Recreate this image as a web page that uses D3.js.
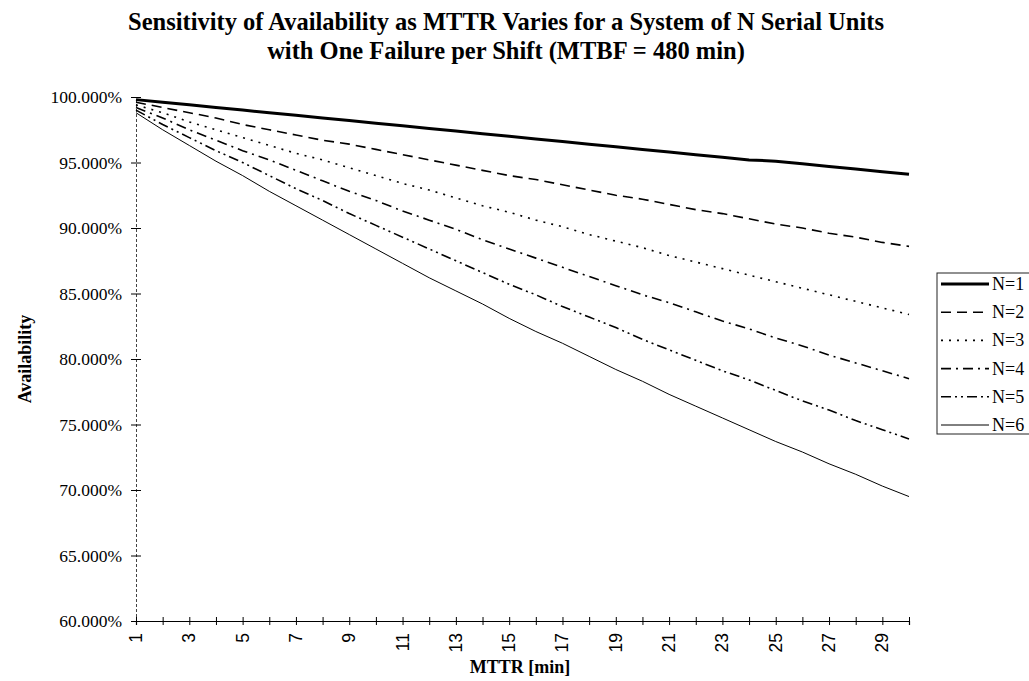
<!DOCTYPE html>
<html>
<head>
<meta charset="utf-8">
<script src="https://cdn.jsdelivr.net/npm/d3@7"></script>
<style>
  body { margin: 0; background: #fff; }
  svg { display: block; font-family: "Liberation Serif", "Times New Roman", serif; }
</style>
</head>
<body>
<div id="content"></div>
<script>
"use strict";

// MTTR in minutes (x categories)
var mttr = d3.range(1, 31);
var xTickLabels = [1, 3, 5, 7, 9, 11, 13, 15, 17, 19, 21, 23, 25, 27, 29];
var yTicks = [60, 65, 70, 75, 80, 85, 90, 95, 100];

// availability in %
var n1 = [99.8, 99.6, 99.4, 99.2, 99.0, 98.8, 98.6, 98.4, 98.2, 98.0, 97.8, 97.6, 97.4, 97.2, 97.0,
          96.8, 96.6, 96.4, 96.2, 96.0, 95.8, 95.6, 95.4, 95.2, 95.1, 94.9, 94.7, 94.5, 94.3, 94.1];
var n2 = [99.6, 99.2, 98.8, 98.4, 97.9, 97.5, 97.1, 96.7, 96.4, 96.0, 95.6, 95.2, 94.8, 94.4, 94.0,
          93.7, 93.3, 92.9, 92.5, 92.2, 91.8, 91.4, 91.1, 90.7, 90.3, 90.0, 89.6, 89.3, 88.9, 88.6];
var n3 = [99.4, 98.8, 98.1, 97.5, 96.9, 96.3, 95.7, 95.2, 94.6, 94.0, 93.4, 92.9, 92.3, 91.7, 91.2,
          90.6, 90.1, 89.5, 89.0, 88.5, 87.9, 87.4, 86.9, 86.4, 85.9, 85.4, 84.9, 84.4, 83.9, 83.4];
var n4 = [99.2, 98.4, 97.5, 96.7, 95.9, 95.2, 94.4, 93.6, 92.8, 92.1, 91.3, 90.6, 89.9, 89.1, 88.4,
          87.7, 87.0, 86.3, 85.6, 84.9, 84.3, 83.6, 82.9, 82.3, 81.6, 81.0, 80.3, 79.7, 79.1, 78.5];
var n5 = [99.0, 97.9, 96.9, 95.9, 95.0, 94.0, 93.0, 92.1, 91.1, 90.2, 89.3, 88.4, 87.5, 86.6, 85.7,
          84.9, 84.0, 83.2, 82.4, 81.5, 80.7, 79.9, 79.1, 78.4, 77.6, 76.8, 76.1, 75.3, 74.6, 73.9];
var n6 = [98.8, 97.5, 96.3, 95.1, 94.0, 92.8, 91.7, 90.6, 89.5, 88.4, 87.3, 86.2, 85.2, 84.2, 83.1,
          82.1, 81.2, 80.2, 79.2, 78.3, 77.3, 76.4, 75.5, 74.6, 73.7, 72.9, 72.0, 71.2, 70.3, 69.5];

var seriesNames = ["N=1", "N=2", "N=3", "N=4", "N=5", "N=6"];
var seriesValues = [n1, n2, n3, n4, n5, n6];

var styles = [
  { w: 3,   dash: null },
  { w: 1.6, dash: "10,6" },
  { w: 1.6, dash: "2,6" },
  { w: 1.6, dash: "10,5,2,5" },
  { w: 1.6, dash: "10,4,2,4,2,4" },
  { w: 1,   dash: null }
];

var width = 1029;
var height = 681;
var svg = d3.select('#content').append('svg')
  .attr('width', width)
  .attr('height', height);

var x = d3.scaleLinear().domain([1, 30]).range([136, 909]);
var y = d3.scaleLinear().domain([60, 100]).range([621, 97]);

// title
var title = svg.append('text')
  .attr('text-anchor', 'middle')
  .style('font-weight', 'bold')
  .style('font-size', '24.5px');
title.append('tspan').attr('x', 506).attr('y', 30)
  .text('Sensitivity of Availability as MTTR Varies for a System of N Serial Units');
title.append('tspan').attr('x', 506).attr('y', 59)
  .text('with One Failure per Shift (MTBF = 480 min)');

// y axis
var yAxis = svg.append('g')
  .attr('transform', 'translate(' + x(1) + ',0)')
  .call(d3.axisLeft(y).tickValues(yTicks)
    .tickSize(5)
    .tickFormat(function(d) { return d.toFixed(3) + '%'; }));
yAxis.select('.domain').attr('stroke', '#444').attr('stroke-dasharray', '3,2');
yAxis.selectAll('.tick line').attr('x2', 5).attr('x1', -5);
yAxis.selectAll('.tick text')
  .attr('x', -14)
  .style('font-family', '"Liberation Serif", serif')
  .style('font-size', '17.5px');

// x axis
var xAxis = svg.append('g')
  .attr('transform', 'translate(0,' + y(60) + ')')
  .call(d3.axisBottom(x).tickValues(mttr).tickSize(4).tickFormat(''));
xAxis.selectAll('.tick line').attr('y1', -4).attr('y2', 4);
xAxis.select('.domain').attr('stroke-width', 1.2);
xAxis.selectAll('text.lbl')
  .data(xTickLabels).enter()
  .append('text')
  .attr('class', 'lbl')
  .attr('transform', function(d) { return 'translate(' + (x(d) + 6) + ',' + 12 + ') rotate(-90)'; })
  .attr('text-anchor', 'end')
  .attr('fill', '#000')
  .style('font-size', '17.5px')
  .text(function(d) { return d; });

// axis titles
svg.append('text')
  .attr('x', 520).attr('y', 673)
  .attr('text-anchor', 'middle')
  .style('font-weight', 'bold')
  .style('font-size', '18px')
  .text('MTTR [min]');
svg.append('text')
  .attr('transform', 'translate(31,359) rotate(-90)')
  .attr('text-anchor', 'middle')
  .style('font-weight', 'bold')
  .style('font-size', '18px')
  .text('Availability');

// lines
var line = d3.line()
  .x(function(d, i) { return x(mttr[i]); })
  .y(function(d) { return y(d); });

svg.selectAll('path.series')
  .data(seriesValues).enter()
  .append('path')
  .attr('class', 'series')
  .attr('d', line)
  .attr('fill', 'none')
  .attr('stroke', '#000')
  .attr('stroke-width', function(d, i) { return styles[i].w; })
  .attr('stroke-dasharray', function(d, i) { return styles[i].dash; });

// legend
var legend = svg.append('g').attr('transform', 'translate(937,273)');
legend.append('rect')
  .attr('width', 110).attr('height', 161)
  .attr('fill', '#fff')
  .attr('stroke', '#222');
var items = legend.selectAll('g.item')
  .data(seriesNames).enter()
  .append('g')
  .attr('class', 'item')
  .attr('transform', function(d, i) { return 'translate(0,' + (11 + i * 28.2) + ')'; });
items.append('line')
  .attr('x1', 4).attr('x2', 52)
  .attr('stroke', '#000')
  .attr('stroke-width', function(d, i) { return styles[i].w; })
  .attr('stroke-dasharray', function(d, i) { return styles[i].dash; });
items.append('text')
  .attr('x', 55).attr('y', 6)
  .style('font-size', '18px')
  .text(function(d) { return d; });
</script>
</body>
</html>
